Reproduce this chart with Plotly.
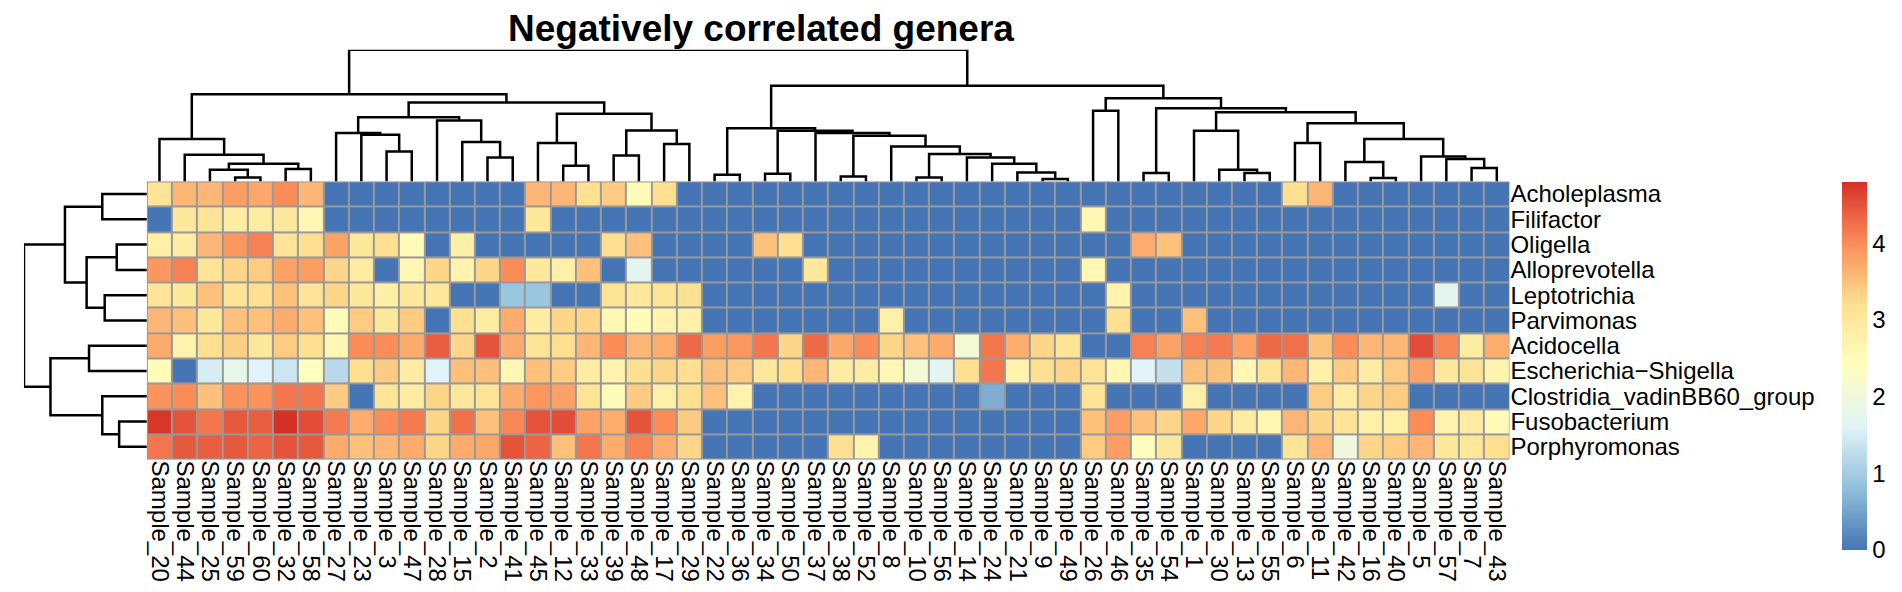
import plotly.graph_objects as go

# display order of columns (samples) and rows (genera), as in the clustered heatmap
samples = ['Sample_20', 'Sample_44', 'Sample_25', 'Sample_59', 'Sample_60', 'Sample_32', 'Sample_58',
           'Sample_27', 'Sample_23', 'Sample_3', 'Sample_47', 'Sample_28', 'Sample_15', 'Sample_2',
           'Sample_41', 'Sample_45', 'Sample_12', 'Sample_33', 'Sample_39', 'Sample_48', 'Sample_17',
           'Sample_29', 'Sample_22', 'Sample_36', 'Sample_34', 'Sample_50', 'Sample_37', 'Sample_38',
           'Sample_52', 'Sample_8', 'Sample_10', 'Sample_56', 'Sample_14', 'Sample_24', 'Sample_21',
           'Sample_9', 'Sample_49', 'Sample_26', 'Sample_46', 'Sample_35', 'Sample_54', 'Sample_1',
           'Sample_30', 'Sample_13', 'Sample_55', 'Sample_6', 'Sample_11', 'Sample_42', 'Sample_16',
           'Sample_40', 'Sample_5', 'Sample_57', 'Sample_7', 'Sample_43']

genera = ['Acholeplasma', 'Filifactor', 'Oligella', 'Alloprevotella', 'Leptotrichia', 'Parvimonas',
          'Acidocella', 'Escherichia\u2212Shigella', 'Clostridia_vadinBB60_group', 'Fusobacterium',
          'Porphyromonas']

acholeplasma = [3.1, 3.6, 3.6, 3.85, 3.75, 4.0, 3.6, 0, 0, 0, 0, 0, 0, 0, 0, 3.6, 3.6, 3.2,
                3.4, 2.5, 3.2, 0, 0, 0, 0, 0, 0, 0, 0, 0, 0, 0, 0, 0, 0, 0,
                0, 0, 0, 0, 0, 0, 0, 0, 0, 3.2, 3.6, 0, 0, 0, 0, 0, 0, 0]
filifactor = [0, 3.0, 3.1, 2.9, 2.9, 3.0, 2.6, 0, 0, 0, 0, 0, 0, 0, 0, 3.0, 0, 0,
              0, 0, 0, 0, 0, 0, 0, 0, 0, 0, 0, 0, 0, 0, 0, 0, 0, 0,
              0, 2.6, 0, 0, 0, 0, 0, 0, 0, 0, 0, 0, 0, 0, 0, 0, 0, 0]
oligella = [2.8, 2.9, 3.6, 3.9, 4.1, 3.1, 3.2, 3.8, 3.0, 3.2, 2.5, 0, 2.8, 0, 0, 0, 0, 0,
            3.2, 3.5, 0, 0, 0, 0, 3.5, 3.2, 0, 0, 0, 0, 0, 0, 0, 0, 0, 0,
            0, 0, 0, 3.7, 3.5, 0, 0, 0, 0, 0, 0, 0, 0, 0, 0, 0, 0, 0]
alloprevotella = [3.9, 4.1, 3.1, 3.3, 3.4, 3.8, 3.85, 3.3, 2.9, 0, 2.6, 3.3, 2.7, 3.3, 4.0, 3.0, 2.8, 3.5,
                  0, 1.7, 0, 0, 0, 0, 0, 0, 3.0, 0, 0, 0, 0, 0, 0, 0, 0, 0,
                  0, 2.6, 0, 0, 0, 0, 0, 0, 0, 0, 0, 0, 0, 0, 0, 0, 0, 0]
leptotrichia = [3.1, 3.0, 3.5, 3.1, 3.2, 3.5, 3.1, 3.3, 3.0, 2.8, 3.0, 3.0, 0, 0, 0.9, 0.9, 0, 0,
                3.1, 3.0, 3.1, 3.15, 0, 0, 0, 0, 0, 0, 0, 0, 0, 0, 0, 0, 0, 0,
                0, 0, 2.7, 0, 0, 0, 0, 0, 0, 0, 0, 0, 0, 0, 0, 1.7, 0, 0]
parvimonas = [3.6, 3.5, 3.0, 3.5, 3.5, 3.7, 3.5, 2.5, 3.4, 3.0, 3.4, 0, 3.2, 2.9, 3.7, 2.9, 3.3, 3.3,
              2.6, 2.5, 2.7, 2.8, 0, 0, 0, 0, 0, 0, 0, 2.8, 0, 0, 0, 0, 0, 0,
              0, 0, 3.2, 0, 0, 3.5, 0, 0, 0, 0, 0, 0, 0, 0, 0, 0, 0, 0]
acidocella = [3.7, 2.7, 3.2, 3.35, 3.0, 3.4, 3.2, 2.6, 4.0, 4.0, 3.7, 4.4, 3.3, 4.5, 3.7, 3.1, 3.2, 3.6,
              4.0, 3.6, 3.7, 4.3, 3.85, 3.9, 4.2, 3.3, 4.3, 3.75, 4.0, 3.3, 3.5, 3.7, 2.1, 4.2, 3.7, 3.3,
              3.1, 0, 0, 4.1, 3.8, 4.1, 4.15, 3.8, 4.3, 4.25, 3.5, 4.0, 3.6, 3.6, 4.55, 4.05, 2.9, 3.7]
escherichia = [2.5, 0, 1.5, 1.8, 1.6, 1.4, 2.4, 1.2, 3.2, 3.4, 2.9, 1.6, 3.5, 3.5, 2.6, 3.5, 3.4, 2.9,
               2.7, 3.2, 3.3, 3.2, 3.5, 3.4, 3.0, 3.2, 3.6, 2.9, 2.9, 2.6, 2.1, 1.7, 3.2, 4.2, 2.7, 3.2,
               3.3, 3.1, 2.6, 1.6, 1.3, 3.5, 3.5, 2.6, 3.1, 3.6, 2.8, 3.4, 2.9, 3.4, 3.8, 3.0, 3.1, 2.7]
clostridia = [3.95, 4.0, 3.5, 3.95, 3.95, 4.2, 4.2, 3.4, 0, 3.1, 2.9, 3.3, 3.0, 3.1, 3.7, 3.9, 3.8, 3.1,
              2.5, 3.4, 2.8, 3.2, 3.5, 2.7, 0, 0, 0, 0, 0, 0, 0, 0, 0, 0.6, 0, 0,
              0, 3.1, 0, 0, 0, 2.8, 0, 0, 0, 0, 3.4, 2.9, 3.3, 3.4, 0, 0, 0, 0]
fusobacterium = [4.75, 4.5, 4.2, 4.45, 4.4, 4.8, 4.55, 4.15, 3.7, 4.0, 4.15, 3.3, 4.25, 3.5, 4.05, 4.5, 4.55, 3.8,
                 3.7, 4.5, 4.0, 3.4, 0, 0, 0, 0, 0, 0, 0, 0, 0, 0, 0, 0, 0, 0,
                 0, 3.5, 3.85, 3.5, 3.3, 3.75, 3.3, 2.9, 2.6, 3.6, 3.3, 3.1, 2.8, 2.8, 4.0, 2.7, 2.9, 2.5]
porphyromonas = [4.2, 4.45, 4.4, 4.45, 4.35, 4.5, 4.45, 3.7, 3.5, 3.6, 3.7, 3.3, 3.7, 3.75, 4.5, 4.35, 3.5, 4.2,
                 3.7, 4.1, 3.7, 3.3, 0, 0, 0, 0, 0, 3.2, 2.7, 0, 0, 0, 0, 0, 0, 0,
                 0, 3.4, 3.85, 2.4, 3.0, 0, 0, 0, 0, 3.1, 3.6, 2.0, 3.3, 3.4, 3.6, 3.0, 3.0, 3.2]

legend_ticks = [0, 1, 2, 3, 4]

# column tree: (left, right, merge height), leaves are column positions
col_tree = (
    ((0, (1, ((2, (3, 4, 12), 35), (5, 6, 37), 53), 80), 127),
     (((7, (8, (9, 10, 90), 140), 145), (11, (12, (13, 14, 72), 118), 183), 193),
      ((15, (16, 17, 47), 115), ((18, 19, 78), (20, 21, 112), 153), 203), 237), 262),
    (((22, 23, 20),
      ((24, 25, 23),
       (26, ((27, 28, 15),
             (29, ((30, 31, 12), (32, (33, (34, (35, 36, 7), 27), 53), 72), 82), 105), 137), 145),
       152), 160),
     ((37, 38, 212),
      ((39, 40, 25),
       ((41, (42, (43, 44, 25), 35), 152),
        ((45, 46, 115),
         ((47, (48, 49, 10), 58), (50, (51, (52, 53, 40), 67), 75), 127), 175), 208), 220), 250), 287),
    395)

# row tree
row_tree = (((0, 1, 37), ((2, 3, 25), (4, 5, 35), 50), 68),
            ((6, 7, 48), (8, (9, 10, 23), 37), 80), 102)


def walk(node, segs):
    if isinstance(node, int):
        return float(node), 0.0
    a, b, h = node
    xa, ha = walk(a, segs)
    xb, hb = walk(b, segs)
    segs.append([(xa, ha), (xa, h), (xb, h), (xb, hb)])
    return (xa + xb) / 2, h


def tree_lines(tree):
    segs = []
    walk(tree, segs)
    pos, hgt = [], []
    for s in segs:
        for p, h in s:
            pos.append(p)
            hgt.append(h)
        pos.append(None)
        hgt.append(None)
    return pos, hgt


z = [acholeplasma, filifactor, oligella, alloprevotella, leptotrichia, parvimonas,
     acidocella, escherichia, clostridia, fusobacterium, porphyromonas]

W, H = 1902, 592
hm_x = [139 / W, 1503 / W]
hm_y = [1 - 452 / H, 1 - 173 / H]

colors = ['#4575B4', '#91BFDB', '#E0F3F8', '#FFFFBF', '#FEE090', '#FC8D59', '#D73027']
cscale = [[i / 6, c] for i, c in enumerate(colors)]

fig = go.Figure()
fig.add_trace(go.Heatmap(
    z=z, x=list(range(len(samples))), y=list(range(len(genera))),
    colorscale=cscale, zmin=0, zmax=4.8, xgap=2, ygap=2,
    colorbar=dict(x=1836 / W, xanchor='left', xpad=0, ypad=0,
                  y=1 - 358 / H, yanchor='middle',
                  thickness=25, len=368, lenmode='pixels', outlinewidth=0,
                  tickvals=legend_ticks, ticks='', tickfont=dict(size=24, color='black')),
    xaxis='x', yaxis='y', showscale=True))

cx, cy = tree_lines(col_tree)
fig.add_trace(go.Scatter(x=cx, y=cy, mode='lines', line=dict(color='black', width=2.5),
                         xaxis='x2', yaxis='y2', cliponaxis=False, hoverinfo='skip'))
ry, rx = tree_lines(row_tree)
fig.add_trace(go.Scatter(x=rx, y=ry, mode='lines', line=dict(color='black', width=2.5),
                         xaxis='x3', yaxis='y3', cliponaxis=False, hoverinfo='skip'))

# grey cell borders
fig.add_shape(type='rect', xref='x', yref='y', x0=-0.5, x1=len(samples) - 0.5,
              y0=-0.5, y1=len(genera) - 0.5, fillcolor='#999999',
              line=dict(color='#999999', width=1), layer='below')

fig.update_layout(
    width=W, height=H, margin=dict(l=0, r=0, t=0, b=0),
    paper_bgcolor='white', plot_bgcolor='white', showlegend=False,
    font=dict(family='Arial, Liberation Sans, sans-serif', color='black'),
    xaxis=dict(domain=hm_x, range=[-0.5, len(samples) - 0.5], tickvals=list(range(len(samples))),
               ticktext=samples, tickangle=90, tickfont=dict(size=24), showgrid=False,
               zeroline=False, showline=False, ticks='', anchor='y'),
    yaxis=dict(domain=hm_y, range=[len(genera) - 0.5, -0.5], tickvals=list(range(len(genera))),
               ticktext=genera, side='right', tickfont=dict(size=24), showgrid=False,
               zeroline=False, showline=False, ticks='', anchor='x'),
    xaxis2=dict(domain=hm_x, range=[-0.5, len(samples) - 0.5], visible=False, anchor='y2'),
    yaxis2=dict(domain=[1 - 173 / H, 1 - 41 / H], range=[0, 395], visible=False, anchor='x2'),
    xaxis3=dict(domain=[16 / W, 139 / W], range=[102, 0], visible=False, anchor='y3'),
    yaxis3=dict(domain=hm_y, range=[len(genera) - 0.5, -0.5], visible=False, anchor='x3'),
    annotations=[dict(text='<b>Negatively correlated genera</b>', x=754 / W, y=1 - 20 / H,
                      xref='paper', yref='paper', xanchor='center', yanchor='middle',
                      showarrow=False, font=dict(size=37, color='black'))],
)

fig.write_html("out.html")
